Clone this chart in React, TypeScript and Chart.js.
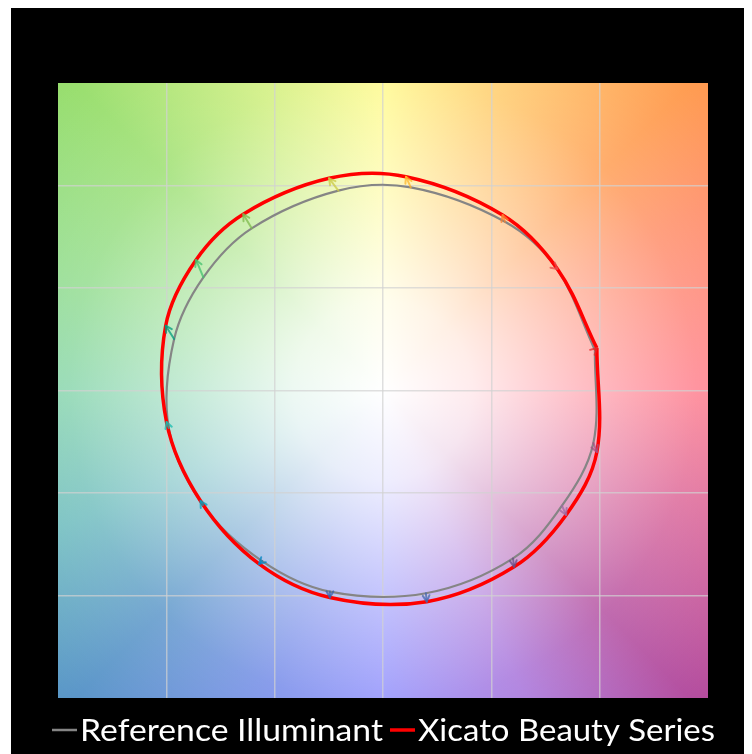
import React, { useEffect, useRef } from "react";
import { Chart, registerables } from "chart.js";

Chart.register(...registerables);

// ---- Data (normalized a', b' coordinates per hue bin 1..16) ----
const hueBins = [1, 2, 3, 4, 5, 6, 7, 8, 9, 10, 11, 12, 13, 14, 15, 16];
const refX = [0.978, 0.799, 0.563, 0.128, -0.206, -0.606, -0.829, -0.964, -0.989, -0.831, -0.558, -0.245, 0.198, 0.6, 0.826, 0.971];
const refY = [0.198, 0.598, 0.823, 0.991, 0.975, 0.791, 0.552, 0.251, -0.183, -0.559, -0.832, -0.981, -0.989, -0.819, -0.562, -0.256];
const testX = [0.987, 0.805, 0.552, 0.106, -0.249, -0.645, -0.863, -1.003, -0.999, -0.842, -0.572, -0.245, 0.202, 0.605, 0.845, 0.987];
const testY = [0.207, 0.593, 0.856, 1.043, 1.035, 0.86, 0.637, 0.316, -0.154, -0.539, -0.846, -1.01, -1.03, -0.86, -0.607, -0.3];
const axisMin = -1.5;
const axisMax = 1.5;
const gridStep = 0.5;
const seriesLabels = ["Reference Illuminant", "Xicato Beauty Series"];

// ---- Styles ----
const binColors = ["#e62828", "#e74b4b", "#fb812e", "#ffb529", "#cbca46", "#7eb94c", "#41c06d", "#009c7c", "#16bcb0", "#00a4bf", "#0085c3", "#3b62aa", "#4568ae", "#6a4e85", "#9d69a1", "#a74f81"];
const hueStops: [number, string][] = [
  [0, "rgb(255,125,140)"],
  [30, "rgb(255,140,100)"],
  [45, "rgb(255,155,78)"],
  [70, "rgb(255,205,105)"],
  [90, "rgb(255,250,135)"],
  [112, "rgb(205,238,120)"],
  [135, "rgb(152,222,108)"],
  [160, "rgb(145,220,140)"],
  [180, "rgb(135,213,172)"],
  [203, "rgb(110,188,190)"],
  [225, "rgb(88,148,200)"],
  [250, "rgb(112,135,232)"],
  [270, "rgb(140,140,252)"],
  [295, "rgb(165,112,218)"],
  [315, "rgb(178,75,158)"],
  [340, "rgb(220,100,150)"],
];
const lineColors = ["#858585", "#ff0000"];

const backgroundPlugin = {
  id: "hueBackground",
  beforeDraw(chart: any) {
    const { ctx, chartArea } = chart;
    const { left, top, right, bottom } = chartArea;
    const cx = (left + right) / 2;
    const cy = (top + bottom) / 2;
    ctx.save();
    ctx.beginPath();
    ctx.rect(left, top, right - left, bottom - top);
    ctx.clip();
    const cg = ctx.createConicGradient(0, cx, cy);
    const stops = hueStops
      .map(([a, c]) => [((360 - a) % 360) / 360, c] as [number, string])
      .sort((p, q) => p[0] - q[0]);
    stops.forEach(([t, c]) => cg.addColorStop(t, c));
    cg.addColorStop(1, hueStops[0][1]);
    ctx.fillStyle = cg;
    ctx.fillRect(left, top, right - left, bottom - top);
    const R = Math.hypot(right - cx, bottom - cy);
    const rg = ctx.createRadialGradient(cx, cy, 0, cx, cy, R);
    rg.addColorStop(0, "rgba(255,255,255,1)");
    rg.addColorStop(0.2, "rgba(255,255,255,0.85)");
    rg.addColorStop(0.45, "rgba(255,255,255,0.5)");
    rg.addColorStop(0.7, "rgba(255,255,255,0.18)");
    rg.addColorStop(1, "rgba(255,255,255,0)");
    ctx.fillStyle = rg;
    ctx.fillRect(left, top, right - left, bottom - top);
    ctx.restore();
  },
};

const arrowPlugin = {
  id: "hueArrows",
  afterDatasetsDraw(chart: any) {
    const { ctx } = chart;
    const xs = chart.scales.x;
    const ys = chart.scales.y;
    ctx.save();
    hueBins.forEach((b, i) => {
      const x0 = xs.getPixelForValue(refX[i]);
      const y0 = ys.getPixelForValue(refY[i]);
      const x1 = xs.getPixelForValue(testX[i]);
      const y1 = ys.getPixelForValue(testY[i]);
      const ang = Math.atan2(y1 - y0, x1 - x0);
      const head = 7;
      ctx.strokeStyle = binColors[b - 1];
      ctx.globalAlpha = 0.75;
      ctx.lineWidth = 2;
      ctx.lineCap = "round";
      ctx.beginPath();
      ctx.moveTo(x0, y0);
      ctx.lineTo(x1, y1);
      ctx.stroke();
      ctx.beginPath();
      ctx.moveTo(x1, y1);
      ctx.lineTo(x1 - head * Math.cos(ang - 0.5), y1 - head * Math.sin(ang - 0.5));
      ctx.moveTo(x1, y1);
      ctx.lineTo(x1 - head * Math.cos(ang + 0.5), y1 - head * Math.sin(ang + 0.5));
      ctx.stroke();
    });
    ctx.restore();
  },
};

const legendPlugin = {
  id: "bottomLegend",
  afterDraw(chart: any) {
    const { ctx } = chart;
    const items = [
      { dashX: 41, textX: 69, width: 303 },
      { dashX: 379, textX: 407, width: 297 },
    ];
    ctx.save();
    ctx.font = "31px Lato, 'Open Sans', sans-serif";
    ctx.textBaseline = "alphabetic";
    ctx.fillStyle = "#ffffff";
    items.forEach((it, i) => {
      ctx.strokeStyle = lineColors[i];
      ctx.lineWidth = i === 0 ? 2.5 : 3.5;
      ctx.beginPath();
      ctx.moveTo(it.dashX, 722);
      ctx.lineTo(it.dashX + 25, 722);
      ctx.stroke();
      const w = ctx.measureText(seriesLabels[i]).width;
      ctx.save();
      ctx.translate(it.textX, 733);
      ctx.scale(it.width / w, 1);
      ctx.fillText(seriesLabels[i], 0, 0);
      ctx.restore();
    });
    ctx.restore();
  },
};

function loop(xs: number[], ys: number[]) {
  const pts = hueBins.map((_, i) => ({ x: xs[i], y: ys[i] }));
  pts.push({ x: xs[0], y: ys[0] });
  return pts;
}

export default function App() {
  const canvasRef = useRef<HTMLCanvasElement | null>(null);
  useEffect(() => {
    if (!canvasRef.current) return;
    const gridColor = (c: any) =>
      Math.abs(c.tick.value) >= axisMax - 1e-9 ? "rgba(0,0,0,0)" : "rgba(210,210,210,0.7)";
    const axis = {
      type: "linear" as const,
      min: axisMin,
      max: axisMax,
      ticks: { display: false, stepSize: gridStep },
      grid: { color: gridColor, lineWidth: 1.5, drawTicks: false },
      border: { display: false },
    };
    const chart = new Chart(canvasRef.current, {
      type: "scatter",
      data: {
        datasets: [
          {
            label: seriesLabels[0],
            data: loop(refX, refY),
            showLine: true,
            borderColor: lineColors[0],
            borderWidth: 2.2,
            pointRadius: 0,
            tension: 0.35,
            order: 2,
          },
          {
            label: seriesLabels[1],
            data: loop(testX, testY),
            showLine: true,
            borderColor: lineColors[1],
            borderWidth: 3.5,
            pointRadius: 0,
            tension: 0.35,
            order: 1,
          },
        ],
      },
      options: {
        animation: false,
        responsive: false,
        layout: { padding: { left: 47, top: 75, right: 39, bottom: 56 } },
        plugins: { legend: { display: false }, tooltip: { enabled: false } },
        scales: { x: axis, y: axis },
      },
      plugins: [backgroundPlugin, arrowPlugin, legendPlugin],
    });
    return () => chart.destroy();
  }, []);
  return (
    <div style={{ marginLeft: 3, width: 736, height: 746, background: "#000" }}>
      <canvas ref={canvasRef} width={736} height={746} style={{ display: "block", width: 736, height: 746 }} />
    </div>
  );
}
